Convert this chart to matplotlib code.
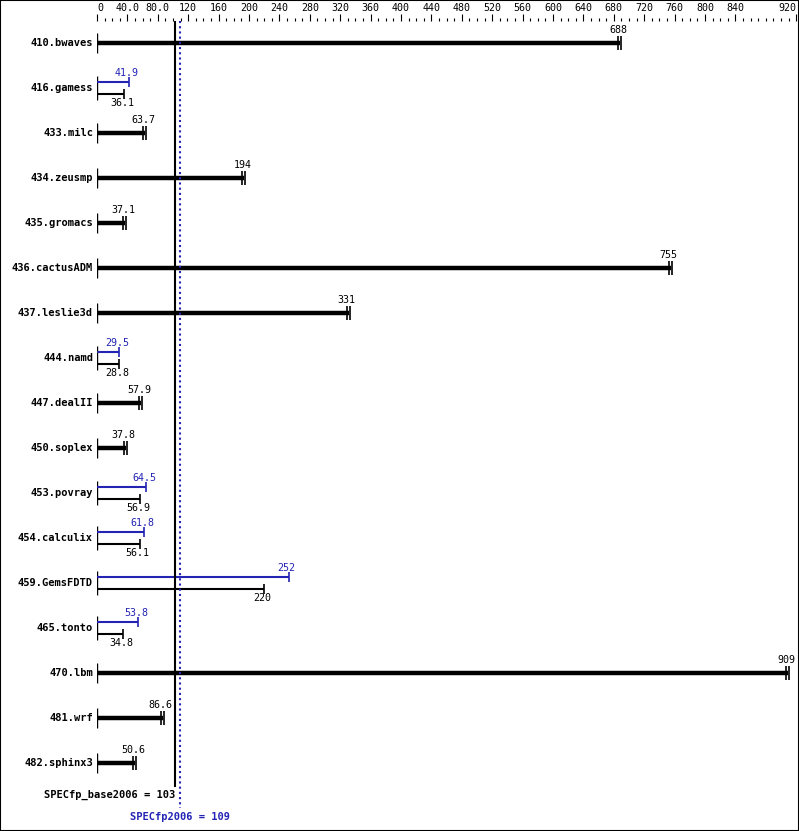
import matplotlib
matplotlib.use("Agg")
import matplotlib.pyplot as plt
from matplotlib.patches import Rectangle

benchmarks = ["410.bwaves","416.gamess","433.milc","434.zeusmp","435.gromacs","436.cactusADM",
              "437.leslie3d","444.namd","447.dealII","450.soplex","453.povray","454.calculix",
              "459.GemsFDTD","465.tonto","470.lbm","481.wrf","482.sphinx3"]
base = [688,36.1,63.7,194,37.1,755,331,28.8,57.9,37.8,56.9,56.1,220,34.8,909,86.6,50.6]
peak = [None,41.9,None,None,None,None,None,29.5,None,None,64.5,61.8,252,53.8,None,None,None]
base_mean = 103
peak_mean = 109
tick_vals = list(range(0, 880, 40)) + [920]
tick_labels = ["0","40.0","80.0"] + [str(v) for v in range(120, 880, 40)] + ["920"]

BLUE = "#2323b4"
W, H = 799, 831
fig = plt.figure(figsize=(W/100, H/100), dpi=100)
ax = fig.add_axes([97/W, 0, (797-97)/W, (H-21)/H])
ax.set_xlim(0, 921)
ax.set_ylim(H, 21)
for s in ax.spines.values():
    s.set_visible(False)
ax.set_yticks([])
ax.xaxis.tick_top()
ax.set_xticks(tick_vals)
ax.set_xticklabels(tick_labels, fontsize=7.2, family="DejaVu Sans Mono")
ax.set_xticks(range(0, 921, 10), minor=True)
ax.tick_params(axis="x", which="major", direction="out", length=5, width=0.8, pad=1)
ax.tick_params(axis="x", which="minor", direction="out", length=2.5, width=0.8)
ax.tick_params(axis="x", which="both", top=True, bottom=False)
labs = ax.get_xticklabels()
labs[-1].set_horizontalalignment("right")
labs[0].set_horizontalalignment("left")

px = 921/700  # data units per pixel
mono = "DejaVu Sans Mono"
for i, name in enumerate(benchmarks):
    y = 43 + 45*i
    ax.text(-4*px, y, name, ha="right", va="center", fontsize=7.5, fontweight="bold", family=mono)
    b, p = base[i], peak[i]
    if p is None:
        ax.vlines(0, y-10, y+10, color="black", lw=1)
        ax.hlines(y, 0, b, color="black", lw=3.2)
        ax.vlines([b-2*px, b+px], y-7, y+7, color="black", lw=1.2)
        ax.text(b-2*px, y-8, f"{b:g}", ha="center", va="bottom", fontsize=7.2, family=mono)
    else:
        ax.vlines(0, y-12, y+12, color="black", lw=1)
        ax.hlines(y-6, 0, p, color=BLUE, lw=1.5)
        ax.vlines(p, y-11, y-1, color=BLUE, lw=1.2)
        ax.text(p-2*px, y-10, f"{p:g}", ha="center", va="bottom", fontsize=7.2, family=mono, color=BLUE)
        ax.hlines(y+6, 0, b, color="black", lw=1.5)
        ax.vlines(b, y+1, y+11, color="black", lw=1.2)
        ax.text(b-2*px, y+10, f"{b:g}", ha="center", va="top", fontsize=7.2, family=mono)

ax.vlines(base_mean, 21, 787, color="black", lw=1.5)
ax.vlines(peak_mean, 21, 808, color=BLUE, lw=1.5, linestyles=(0, (1, 1.5)))
ax.text(base_mean, 795, f"SPECfp_base2006 = {base_mean}", ha="right", va="center",
        fontsize=7.5, fontweight="bold", family=mono)
ax.text(peak_mean, 817, f"SPECfp2006 = {peak_mean}", ha="center", va="center",
        fontsize=7.5, fontweight="bold", family=mono, color=BLUE)

fig.patches.append(Rectangle((0, 0), 1, 1, transform=fig.transFigure, fill=False,
                             edgecolor="black", lw=1.5))
fig.savefig("out.png", dpi=100)
